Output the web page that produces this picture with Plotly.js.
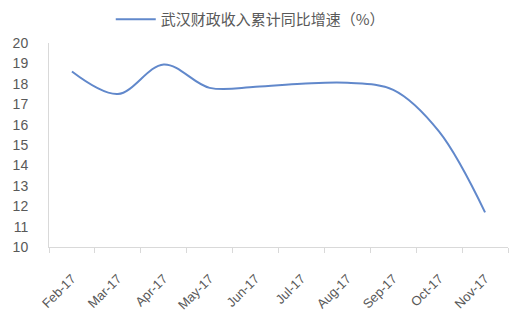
<!DOCTYPE html>
<html><head><meta charset="utf-8">
<script src="https://cdn.plot.ly/plotly-3.0.1.min.js"></script>
<style>html,body{margin:0;padding:0;background:#fff}#c{width:520px;height:325px}</style>
</head><body><div id="c"></div>
<script>
const months = ["Feb-17","Mar-17","Apr-17","May-17","Jun-17","Jul-17","Aug-17","Sep-17","Oct-17","Nov-17"];
const growth = [18.6, 17.5, 18.95, 17.8, 17.85, 18.0, 18.05, 17.7, 15.65, 11.7];
const seriesName = "武汉财政收入累计同比增速（%）";
const yTicks = [10,11,12,13,14,15,16,17,18,19,20];

Plotly.newPlot("c", [{
  x: months, y: growth, type: "scatter", mode: "lines", name: seriesName,
  line: {color: "#6188CB", width: 2, shape: "spline", smoothing: 1}
}], {
  width: 520, height: 325,
  margin: {l: 49, r: 12, t: 43, b: 78},
  paper_bgcolor: "#fff", plot_bgcolor: "#fff",
  showlegend: true,
  legend: {orientation: "h", xref: "container", yref: "container",
    x: 0.213, xanchor: "left", y: 0.94, yanchor: "middle",
    font: {family: "Noto Sans CJK SC", size: 15, color: "#595959"}, itemwidth: 40},
  xaxis: {type: "category", range: [-0.5, 9.5], showline: true, linecolor: "#d9d9d9", linewidth: 1,
    ticks: "outside", tickson: "boundaries", ticklen: 5, tickcolor: "#d9d9d9",
    showgrid: false, tickangle: -45, ticklabelstandoff: 18,
    tickfont: {family: "Liberation Sans, Arial", size: 13, color: "#595959"}},
  yaxis: {range: [10, 20], tickvals: yTicks, showline: true, linecolor: "#d9d9d9", linewidth: 1,
    showgrid: false, zeroline: false, ticks: "", ticklabelstandoff: 17,
    tickfont: {family: "Liberation Sans, Arial", size: 14, color: "#595959"}}
}, {displayModeBar: false, staticPlot: true});
</script></body></html>
